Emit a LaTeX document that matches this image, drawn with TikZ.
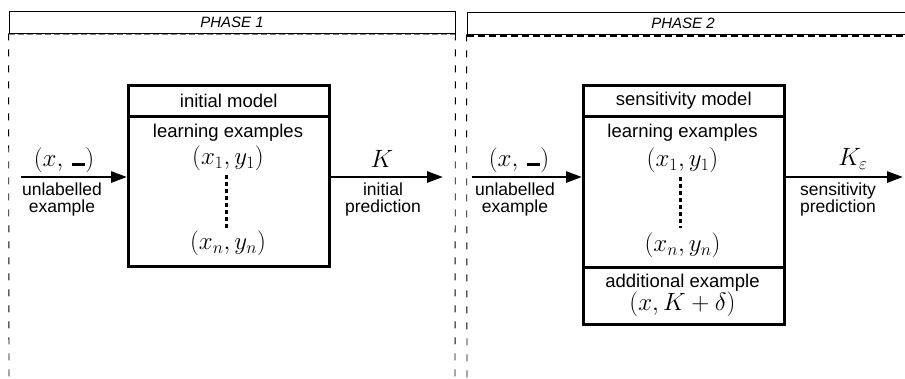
\RequirePackage{fix-cm}
\documentclass[tikz,border=0pt]{standalone}
\usepackage{fontspec}
\setmainfont{Liberation Sans}
\usetikzlibrary{arrows.meta}
\begin{document}
\begin{tikzpicture}[x=1pt,y=-1pt,
  boxpart/.style={draw, line width=2.6pt, minimum width=201pt, inner sep=0pt, anchor=north west},
  boxtxt/.style={inner sep=0pt, font=\fontsize{18.5}{20}\selectfont},
  mathtxt/.style={inner sep=0pt, font=\fontsize{25}{28}\selectfont},
  lbl/.style={inner sep=0pt, anchor=north, align=center, font=\fontsize{17.5}{17}\selectfont},
  arr/.style={line width=2.8pt, -{Triangle[length=16pt,width=11pt]}},
  vdots/.style={line width=3pt, dash pattern=on 3.5pt off 3.5pt},
  hdr/.style={draw, line width=0.9pt, inner sep=0pt, minimum height=22pt},
  hdrtxt/.style={inner sep=0pt, font=\fontsize{15}{17}\selectfont\itshape},
  panel/.style={line width=0.9pt, dash pattern=on 7pt off 9pt},
]
\useasboundingbox (0,0) rectangle (905,378);
\newcommand{\blank}{\rule{0.55em}{0.13em}}

% ---------- PHASE 1 ----------
\node[hdr, minimum width=446pt] (ph1) at (232,22) {};
\node[hdrtxt] (ph1t) at (ph1.center) {PHASE 1};
\coordinate (p1bl) at (9,378);
\coordinate (p1br) at (455,378);
\draw[line width=1pt, gray, dash pattern=on 6pt off 3pt] ([yshift=-1.5pt]ph1.south west) -- ([yshift=-1.5pt]ph1.south east);
\draw[panel] (ph1.south west) -- (p1bl);
\draw[panel] (ph1.south east) -- (p1br);

\node[boxpart, minimum height=31pt] (h1) at (127,84) {};
\node[boxtxt] (h1t) at (h1.center) {initial model};
\node[boxpart, minimum height=150pt] (b1) at (127,115) {};
\node[boxtxt] (le1) at (228,133) {learning examples};
\node[mathtxt] (x11) at (228,158) {$(x_1,y_1)$};
\node[mathtxt] (xn1) at (228,243) {$(x_n,y_n)$};
\coordinate (d1a) at (226,175);
\coordinate (d1b) at (226,228);
\draw[vdots] (d1a) -- (d1b);

\coordinate (in1) at (21,177);
\draw[arr] (in1) -- (in1 -| b1.west);
\coordinate (out1) at (443,177);
\draw[arr] (out1 -| b1.east) -- (out1);
\node[mathtxt] (u1) at (64,160) {$(x,\,\blank)$};
\node[lbl] (ul1) at (62,183) {unlabelled\\example};
\node[mathtxt] (k1) at (382,159) {$K$};
\node[lbl] (ip1) at (383,183) {initial\\prediction};

% ---------- PHASE 2 ----------
\node[hdr, minimum width=460pt] (ph2) at (697,23) {};
\node[hdrtxt] (ph2t) at (683,23) {PHASE 2};
\coordinate (p2bl) at (467,378);
\draw[line width=1.6pt, dash pattern=on 7pt off 4pt] ([yshift=-1.5pt]ph2.south west) -- ([yshift=-1.5pt]ph2.south east);
\draw[panel] (ph2.south west) -- (p2bl);

\node[boxpart, minimum height=31pt] (h2) at (582,84) {};
\node[boxtxt] (h2t) at (h2.center) {sensitivity model};
\node[boxpart, minimum height=151pt] (b2) at (582,115) {};
\node[boxpart, minimum height=57pt] (a2) at (582,266) {};
\node[boxtxt] (le2) at (682.5,133) {learning examples};
\node[mathtxt] (x12) at (682.5,160) {$(x_1,y_1)$};
\node[mathtxt] (xn2) at (682.5,245) {$(x_n,y_n)$};
\coordinate (d2a) at (680,177);
\coordinate (d2b) at (680,228);
\draw[vdots] (d2a) -- (d2b);
\node[boxtxt] (ae2) at (682.5,283) {additional example};
\node[mathtxt] (xk2) at (682.5,304) {$(x,K+\delta)$};

\coordinate (in2) at (472,177);
\draw[arr] (in2) -- (in2 -| b2.west);
\coordinate (out2) at (903,177);
\draw[arr] (out2 -| b2.east) -- (out2);
\node[mathtxt] (u2) at (519,160) {$(x,\,\blank)$};
\node[lbl] (ul2) at (515,183) {unlabelled\\example};
\node[mathtxt] (k2) at (853,159) {$K_\varepsilon$};
\node[lbl] (sp2) at (838,183) {sensitivity\\prediction};
\end{tikzpicture}
\end{document}
